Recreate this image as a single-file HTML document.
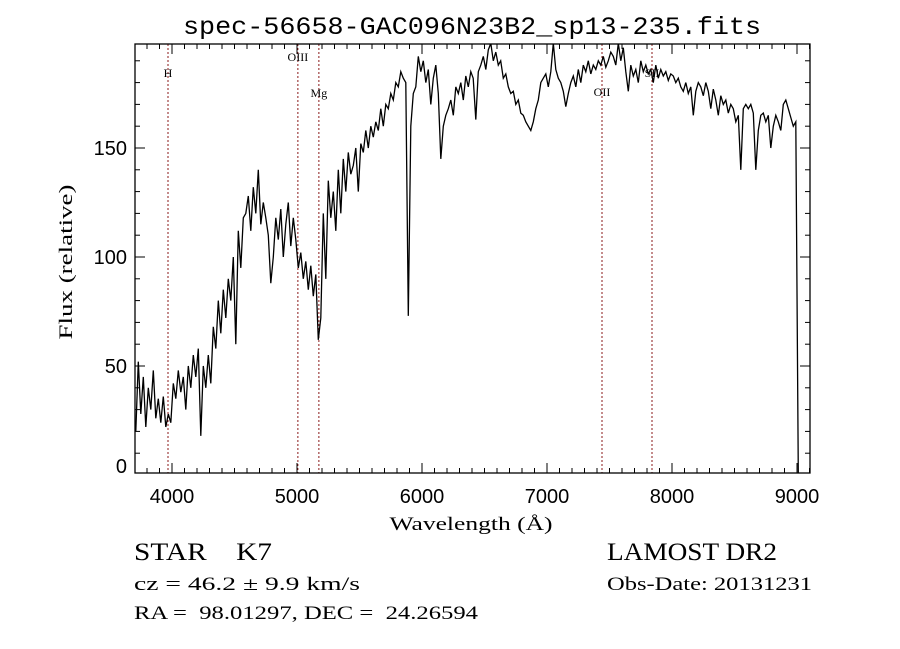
<!DOCTYPE html>
<html><head><meta charset="utf-8"><style>
html,body{margin:0;padding:0;background:#fff;}
svg{display:block;}
text{white-space:pre;}
</style></head><body>
<svg id="chart" width="900" height="649" viewBox="0 0 900 649" xmlns="http://www.w3.org/2000/svg" xml:space="preserve">
<rect width="900" height="649" fill="#fff"/>
<defs><clipPath id="pc"><rect x="135" y="44" width="675" height="429"/></clipPath></defs>
<text x="472" y="34" text-anchor="middle" font-family="Liberation Mono, monospace" font-size="25" textLength="578" lengthAdjust="spacingAndGlyphs">spec-56658-GAC096N23B2_sp13-235.fits</text>
<g id="lines"></g>
<g id="spec" clip-path="url(#pc)"></g>
<g id="axes"></g>
<text x="471" y="530" text-anchor="middle" font-family="Liberation Serif, serif" font-size="19" textLength="163" lengthAdjust="spacingAndGlyphs">Wavelength (Å)</text>
<text transform="translate(72,262) rotate(-90)" text-anchor="middle" font-family="Liberation Serif, serif" font-size="19" textLength="155" lengthAdjust="spacingAndGlyphs">Flux (relative)</text>
<text x="134" y="560" font-family="Liberation Serif, serif" font-size="25" textLength="138" lengthAdjust="spacingAndGlyphs">STAR    K7</text>
<text x="607" y="560" font-family="Liberation Serif, serif" font-size="25" textLength="170" lengthAdjust="spacingAndGlyphs">LAMOST DR2</text>
<text x="134" y="590" font-family="Liberation Serif, serif" font-size="19" textLength="226" lengthAdjust="spacingAndGlyphs">cz = 46.2 ± 9.9 km/s</text>
<text x="607" y="590" font-family="Liberation Serif, serif" font-size="19" textLength="205" lengthAdjust="spacingAndGlyphs">Obs-Date: 20131231</text>
<text x="134" y="619" font-family="Liberation Serif, serif" font-size="19" textLength="344" lengthAdjust="spacingAndGlyphs">RA =  98.01297, DEC =  24.26594</text>
</svg>
<script>
const WL_START = 3710;
const WL_STEP = 20;
const flux = [
20,52,28,45,22,40,30,48,26,35,24,36,22,28,24,
42,35,48,38,45,30,50,40,55,45,
58,18,50,40,55,42,68,58,80,65,
85,72,90,80,100,60,112,95,118,120,
128,112,132,120,140,115,125,118,110,88,
100,118,108,122,100,115,125,105,118,108,
95,102,90,98,85,96,82,92,62,72,
120,90,135,118,130,112,140,120,145,130,
148,138,142,150,130,152,148,158,150,160,
155,162,158,168,160,170,168,175,172,180,
178,185,182,180,73,160,175,178,192,185,
190,180,186,170,182,188,175,145,160,165,
168,172,165,178,175,180,172,183,178,185,
182,163,185,188,192,186,195,198,190,194,
188,190,182,184,178,175,176,170,172,166,
165,162,160,158,162,168,172,180,182,184,
178,185,198,186,182,180,176,169,175,180,
183,178,186,180,188,185,190,184,188,186,
190,188,192,187,190,194,192,188,198,190,
196,185,176,188,183,186,180,190,185,188,
184,186,180,188,182,186,183,185,181,184,
183,180,182,178,176,180,175,178,165,176,
180,178,174,180,176,168,177,172,165,174,
170,172,166,170,168,162,165,140,168,170,
168,170,166,140,158,165,166,162,165,150,
160,165,162,158,170,172,168,164,160,162,
0
];
const xTickLabels = ["4000","5000","6000","7000","8000","9000"];
const xTickValues = [4000,5000,6000,7000,8000,9000];
const yTickLabels = ["0","50","100","150"];
const yTickValues = [0,50,100,150];
const lineNames = ["H","OIII","Mg","OII","SII"];
const lineWaves = [3968,5007,5175,7440,7840];
const lineLabelY = [77,61,97,96,77];

const X0=135,X1=810,Y0=44,Y1=473;
const XMIN=3704,XMAX=9104,YMIN=0.92,YMAX=197.7;
const xs=w=>X0+(w-XMIN)/(XMAX-XMIN)*(X1-X0);
const ys=v=>Y1-(v-YMIN)/(YMAX-YMIN)*(Y1-Y0);
const NS='http://www.w3.org/2000/svg';
function mk(tag,attrs,parent){const e=document.createElementNS(NS,tag);for(const k in attrs)e.setAttribute(k,attrs[k]);parent.appendChild(e);return e;}

const spec=document.getElementById('spec');
let d='';
flux.forEach((v,i)=>{const w=WL_START+i*WL_STEP;d+=(i?'L':'M')+xs(w).toFixed(1)+','+ys(v).toFixed(1);});
const path=mk('path',{d:d,fill:'none',stroke:'#000','stroke-width':'1.3'},spec);



const lg=document.getElementById('lines');
lineWaves.forEach((w,i)=>{
  const x=xs(w);
  const l=mk('line',{x1:x,x2:x,y1:Y0,y2:Y1,stroke:'#8b1a1a','stroke-width':'1','stroke-dasharray':'2,2'},lg);
  
  
  const t=mk('text',{x:x,y:lineLabelY[i],'text-anchor':'middle','font-family':'Liberation Serif, serif','font-size':'12'},lg);
  t.textContent=lineNames[i];
  
  
});

const ax=document.getElementById('axes');
const fr=mk('rect',{x:X0,y:Y0,width:X1-X0,height:Y1-Y0,fill:'none',stroke:'#000','stroke-width':'1.3'},ax);


for(let w=3800;w<=9100;w+=100){
  const x=xs(w);const major=w%1000===0;const L=major?10:5;
  mk('line',{x1:x,x2:x,y1:Y1,y2:Y1-L,stroke:'#000'},ax);
  mk('line',{x1:x,x2:x,y1:Y0,y2:Y0+L,stroke:'#000'},ax);
}
xTickValues.forEach((w,i)=>{
  const t=mk('text',{x:xs(w),y:503,'text-anchor':'middle','font-family':'Liberation Sans, sans-serif','font-size':'20'},ax);
  t.textContent=xTickLabels[i];
  
  
});
for(let v=10;v<=190;v+=10){
  const y=ys(v);const major=v%50===0;const L=major?10:5;
  mk('line',{x1:X0,x2:X0+L,y1:y,y2:y,stroke:'#000'},ax);
  mk('line',{x1:X1,x2:X1-L,y1:y,y2:y,stroke:'#000'},ax);
}
yTickValues.forEach((v,i)=>{
  const t=mk('text',{x:127,y:Math.min(ys(v)+7,473),'text-anchor':'end','font-family':'Liberation Sans, sans-serif','font-size':'20'},ax);
  t.textContent=yTickLabels[i];
  
  
});
</script>
</body></html>
